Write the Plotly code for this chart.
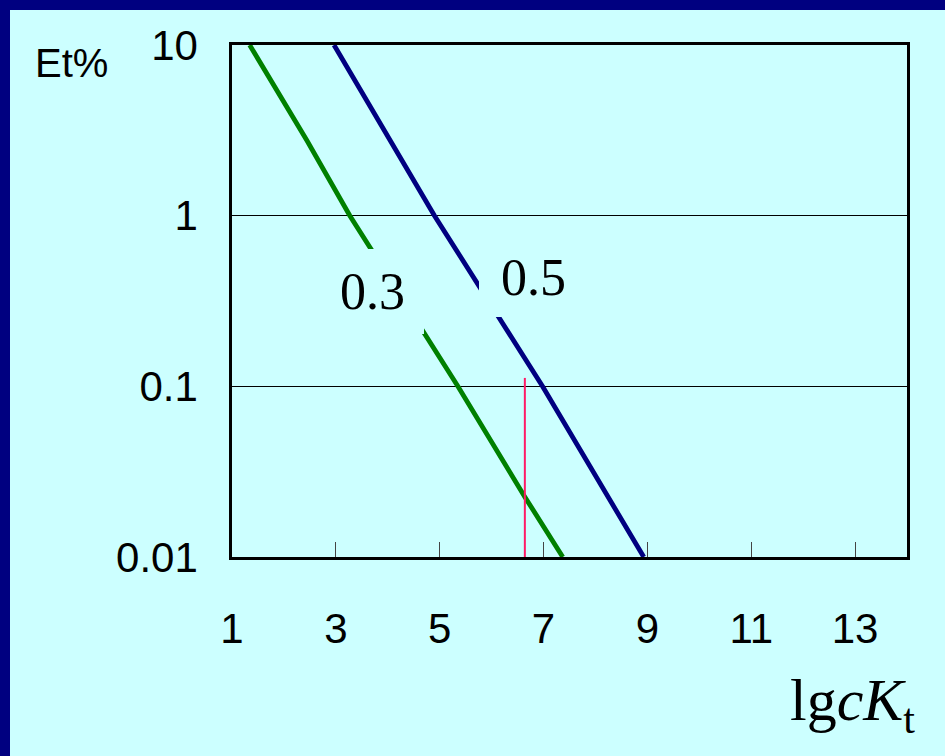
import plotly.graph_objects as go

# ---- data ----
x_03 = [1.34, 2.44, 3.27, 5.35, 6.64, 7.37]
et_03 = [10, 2.77, 1.0, 0.1, 0.0225, 0.01]
x_05 = [2.965, 4.90, 6.98, 7.89, 8.93]
et_05 = [10, 1.0, 0.1, 0.034, 0.01]
mark_x = [6.64, 6.64]
mark_y = [0.01, 0.112]
x_ticks = [1, 3, 5, 7, 9, 11, 13]
y_ticks = [0.01, 0.1, 1, 10]
y_ticktext = ["0.01", "0.1", "1", "10"]
curve_labels = ["0.3", "0.5"]

W, H = 945, 756
L, R, T, B = 232, 38, 45, 199
PW, PH = W - L - R, H - T - B


def px_x(px):
    return (px - L) / PW


def px_y(py):
    return (H - B - py) / PH


CYAN = "#CCFFFF"
NAVY = "#000080"
SANS = "Liberation Sans, Arial, sans-serif"
SERIF = "Liberation Serif, Times New Roman, serif"

fig = go.Figure()
fig.add_trace(go.Scatter(x=x_03, y=et_03, mode="lines",
                         line=dict(color="#008000", width=4.8), showlegend=False))
fig.add_trace(go.Scatter(x=x_05, y=et_05, mode="lines",
                         line=dict(color=NAVY, width=4.8), showlegend=False))
fig.add_trace(go.Scatter(x=mark_x, y=mark_y, mode="lines",
                         line=dict(color="#FF1A66", width=2), showlegend=False))

# background frame: navy strips on top and left
fig.add_shape(type="rect", xref="paper", yref="paper",
              x0=px_x(0), x1=px_x(10), y0=px_y(H), y1=px_y(0),
              fillcolor=NAVY, line=dict(width=0), layer="below")
fig.add_shape(type="rect", xref="paper", yref="paper",
              x0=px_x(0), x1=px_x(W), y0=px_y(10), y1=px_y(0),
              fillcolor=NAVY, line=dict(width=0), layer="below")

# curve labels with background boxes that interrupt the lines
fig.add_annotation(x=3.709, y=-0.444, xref="x", yref="y", text=curve_labels[0],
                   showarrow=False, font=dict(family=SERIF, size=52, color="black"),
                   bgcolor=CYAN, width=103, height=85, borderpad=0, borderwidth=0,
                   align="center", valign="middle")
fig.add_annotation(x=6.80, y=-0.362, xref="x", yref="y", text=curve_labels[1],
                   showarrow=False, font=dict(family=SERIF, size=52, color="black"),
                   bgcolor=CYAN, width=109, height=79, borderpad=0, borderwidth=0,
                   align="center", valign="middle")

# axis titles
fig.add_annotation(x=px_x(33), y=px_y(63), xref="paper", yref="paper", text="Et%",
                   showarrow=False, xanchor="left", yanchor="middle",
                   font=dict(family=SANS, size=40, color="black"))
fig.add_annotation(x=px_x(917), y=px_y(704), xref="paper", yref="paper",
                   text="lg<i>cK</i><sub>t</sub>",
                   showarrow=False, xanchor="right", yanchor="middle",
                   font=dict(family=SERIF, size=60, color="black"))

fig.update_xaxes(range=[1, 14], tickvals=x_ticks, ticks="inside", ticklen=15,
                 tickcolor="#444444", tickwidth=1.2, showgrid=False, zeroline=False,
                 showline=True, mirror=True, linecolor="black", linewidth=2.5,
                 tickfont=dict(family=SANS, size=42, color="black"),
                 ticklabelstandoff=33)
fig.update_yaxes(type="log", range=[-2, 1], tickvals=y_ticks, ticktext=y_ticktext,
                 ticks="", showgrid=True, gridcolor="black", gridwidth=1,
                 zeroline=False, showline=True, mirror=True, linecolor="black",
                 linewidth=2.5, tickfont=dict(family=SANS, size=42, color="black"),
                 ticklabelstandoff=23)

fig.update_layout(width=W, height=H, margin=dict(l=L, r=R, t=T, b=B),
                  paper_bgcolor=CYAN, plot_bgcolor=CYAN, showlegend=False)

fig.write_html("out.html", config={"displayModeBar": False},
               post_script="document.body.style.margin='0';"
                           "document.body.style.overflow='hidden';"
                           "document.body.style.background='#CCFFFF';")
